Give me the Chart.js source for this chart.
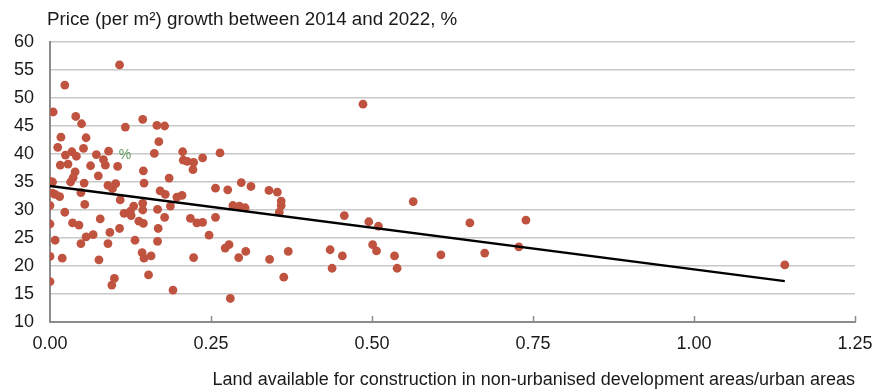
<!DOCTYPE html>
<html>
<head>
<meta charset="utf-8">
<script src="https://cdn.jsdelivr.net/npm/chart.js@4"></script>
<style>
  html, body { margin: 0; padding: 0; background: #fff; }
  #wrap { width: 875px; height: 389px; position: relative; }
</style>
</head>
<body>
<div id="wrap"><canvas id="chart"></canvas></div>
<script>
// Land available (x) vs price growth % (y), one entry per municipality
const landRatio = [
  0.108, 0.023, 0.005, 0.040, 0.049, 0.144, 0.117, 0.166, 0.178, 0.017,
  0.056, 0.169, 0.012, 0.052, 0.091, 0.206, 0.162, 0.034, 0.024, 0.041,
  0.072, 0.083, 0.207, 0.213, 0.237, 0.223, 0.222, 0.016, 0.028, 0.063,
  0.086, 0.105, 0.145, 0.039, 0.075, 0.036, 0.185, 0.032, 0.000, 0.004,
  0.053, 0.090, 0.097, 0.102, 0.146, 0.264, 0.486, 0.297, 0.312, 0.257,
  0.276, 0.340, 0.353, 0.359, 0.359, 0.356, 0.284, 0.294, 0.303, 0.237,
  0.257, 0.247, 0.272, 0.278, 0.293, 0.304, 0.280, 0.341, 0.363, 0.370,
  0.457, 0.435, 0.438, 0.454, 0.495, 0.510, 0.501, 0.507, 0.535, 0.539,
  0.564, 0.652, 0.739, 0.607, 0.675, 0.728, 1.141, 0.004, 0.008, 0.015,
  0.048, 0.109, 0.171, 0.179, 0.197, 0.205, 0.000, 0.054, 0.023, 0.130,
  0.144, 0.115, 0.125, 0.126, 0.144, 0.167, 0.187, 0.078, 0.178, 0.218,
  0.228, 0.000, 0.035, 0.045, 0.138, 0.145, 0.168, 0.108, 0.093, 0.067,
  0.056, 0.008, 0.048, 0.090, 0.132, 0.167, 0.143, 0.146, 0.157, 0.000,
  0.019, 0.076, 0.223, 0.153, 0.100, 0.096, 0.000, 0.191
];
const priceGrowth = [
  55.9, 52.3, 47.5, 46.7, 45.4, 46.2, 44.8, 45.1, 45.0, 43.0,
  42.9, 42.2, 41.2, 41.0, 40.5, 40.4, 40.1, 40.4, 39.8, 39.6,
  39.9, 39.0, 38.9, 38.7, 39.3, 38.5, 37.2, 38.0, 38.2, 37.9,
  38.0, 37.8, 37.0, 36.8, 36.1, 35.8, 35.7, 35.0, 35.1, 35.0,
  34.8, 34.4, 33.8, 34.7, 34.8, 40.2, 48.9, 34.9, 34.2, 33.9,
  33.6, 33.5, 33.2, 31.6, 30.8, 29.6, 30.8, 30.7, 30.4, 27.8,
  28.7, 25.5, 23.2, 23.8, 21.5, 22.6, 14.2, 21.2, 18.0, 22.6,
  29.0, 22.9, 19.6, 21.8, 27.9, 27.1, 23.8, 22.7, 21.8, 19.6,
  31.5, 27.7, 28.2, 22.0, 22.3, 23.4, 20.2, 33.0, 32.8, 32.4,
  33.1, 31.8, 33.4, 32.8, 32.3, 32.6, 30.8, 31.0, 29.6, 30.7,
  31.2, 29.4, 29.8, 29.0, 30.0, 30.1, 30.7, 28.4, 28.7, 28.5,
  27.7, 27.5, 27.7, 27.3, 28.0, 27.6, 26.7, 26.7, 26.0, 25.6,
  25.2, 24.6, 24.0, 24.0, 24.6, 24.4, 22.4, 21.4, 21.8, 21.7,
  21.4, 21.1, 21.5, 18.4, 17.8, 16.6, 17.2, 15.7
];

// Linear trend end points
const trendX = [0, 1.141];
const trendY = [34.3, 17.3];

const xTicks = [0, 0.25, 0.5, 0.75, 1.0, 1.25];
const yTicks = [10, 15, 20, 25, 30, 35, 40, 45, 50, 55, 60];

const chartTitle = 'Price (per m\u00b2) growth between 2014 and 2022, %';
const xTitle = 'Land available for construction in non-urbanised development areas/urban areas';
const strayLabel = { x: 0.1165, y: 39.8, text: '%' };

const FONT = 'Liberation Sans, Arial, Helvetica, sans-serif';
const AXIS = '#8c8c8c';

// Title text, inward x ticks and the small green "%" label
const extras = {
  id: 'extras',
  afterDraw(chart) {
    const { ctx, scales: { x, y } } = chart;
    ctx.save();
    ctx.fillStyle = '#1a1a1a';
    ctx.font = '18.8px ' + FONT;
    ctx.textBaseline = 'alphabetic';
    ctx.textAlign = 'left';
    ctx.fillText(chartTitle, 47, 25);

    ctx.strokeStyle = AXIS;
    ctx.lineWidth = 1.5;
    xTicks.slice(1).forEach(v => {
      const px = Math.round(x.getPixelForValue(v)) + 0.5;
      ctx.beginPath();
      ctx.moveTo(px, y.bottom);
      ctx.lineTo(px, y.bottom - 6);
      ctx.stroke();
    });

    ctx.fillStyle = '#5e9a5e';
    ctx.font = '14px ' + FONT;
    ctx.textAlign = 'center';
    ctx.textBaseline = 'middle';
    ctx.fillText(strayLabel.text, x.getPixelForValue(strayLabel.x), y.getPixelForValue(strayLabel.y));
    ctx.restore();
  },
};

new Chart(document.getElementById('chart'), {
  data: {
    datasets: [
      {
        type: 'line',
        data: trendX.map((v, i) => ({ x: v, y: trendY[i] })),
        borderColor: '#000', borderWidth: 2.5, pointRadius: 0, fill: false,
      },
      {
        type: 'scatter',
        data: landRatio.map((v, i) => ({ x: v, y: priceGrowth[i] })),
        backgroundColor: '#c0533f', borderColor: '#c0533f', borderWidth: 0, pointRadius: 4.4,
      },
    ],
  },
  options: {
    animation: false, responsive: true, maintainAspectRatio: false,
    layout: { padding: { top: 42, right: 0, left: 0, bottom: 0 } },
    plugins: { legend: { display: false }, tooltip: { enabled: false } },
    scales: {
      x: {
        type: 'linear', min: 0, max: 1.25,
        afterBuildTicks: s => { s.ticks = xTicks.map(v => ({ value: v })); },
        afterFit: s => { s.height = 67; s.paddingRight = 20; s.paddingLeft = 0; },
        ticks: { color: '#1a1a1a', font: { size: 18, family: FONT }, padding: 11, callback: v => v.toFixed(2), maxRotation: 0 },
        grid: { display: false, drawTicks: false },
        border: { color: AXIS, width: 2 },
        title: { display: true, text: xTitle, align: 'end', color: '#1a1a1a', font: { size: 18, family: FONT }, padding: { top: 0, bottom: -2 } },
      },
      y: {
        type: 'linear', min: 10, max: 60,
        afterBuildTicks: s => { s.ticks = yTicks.map(v => ({ value: v })); },
        afterFit: s => { s.width = 50; },
        ticks: { color: '#1a1a1a', font: { size: 18, family: FONT }, padding: 16 },
        grid: { color: '#c8c8c8', lineWidth: 1.5, drawTicks: false },
        border: { color: AXIS, width: 2 },
      },
    },
  },
  plugins: [extras],
});
</script>
</body>
</html>
